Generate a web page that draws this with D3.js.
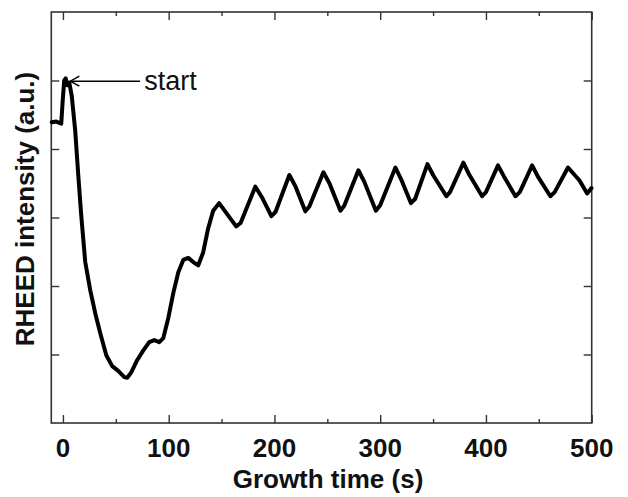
<!DOCTYPE html>
<html>
<head>
<meta charset="utf-8">
<script src="https://cdn.jsdelivr.net/npm/d3@7"></script>
<style>
  html, body { margin: 0; padding: 0; background: #fff; overflow: hidden; }
  svg { display: block; }
</style>
</head>
<body>
<script>
// RHEED intensity trace (time in s, intensity in arbitrary units)
const timeS = [
  -10.6, -6.3, -1.6, -0.2, 1.2, 2.6, 4.1, 6.0, 8.3, 11.6, 14.5, 17.3, 21.1, 25.8, 30.6, 35.3,
  41.0, 46.6, 52.3, 58.0, 60.8, 64.6, 70.3, 76.0, 81.6, 86.4, 91.1, 94.9, 99.6, 104.4, 109.1,
  113.8, 118.5, 123.2, 127.9, 132.6, 137.3, 142.1, 147.7, 155.3, 163.8, 168.0, 181.9, 188.0, 197.1, 201.0, 214.1,
  220.0, 229.2, 233.0, 246.3, 252.0, 262.4, 266.0, 279.4, 285.0, 295.9, 300.0, 314.4, 320.0, 329.0, 333.0,
  344.7, 350.0, 362.6, 366.0, 378.7, 384.0, 396.4, 400.0, 411.4, 417.0, 427.9, 432.0,
  443.7, 449.0, 460.9, 465.0, 477.6, 488.5, 495.7, 499.8
];
const intensity = [
  4.39, 4.40, 4.37, 4.71, 5.00, 5.03, 4.93, 4.97, 4.78, 4.27, 3.62, 3.03, 2.35, 1.94, 1.60, 1.31,
  0.99, 0.83, 0.76, 0.67, 0.66, 0.74, 0.92, 1.06, 1.18, 1.21, 1.18, 1.24, 1.53, 1.90, 2.20,
  2.38, 2.41, 2.35, 2.30, 2.49, 2.84, 3.10, 3.21, 3.05, 2.87, 2.92, 3.45, 3.30, 3.02, 3.08, 3.62,
  3.45, 3.09, 3.16, 3.66, 3.50, 3.10, 3.17, 3.69, 3.52, 3.10, 3.18, 3.73, 3.55, 3.21, 3.27,
  3.78, 3.62, 3.31, 3.37, 3.80, 3.63, 3.31, 3.37, 3.76, 3.60, 3.31, 3.37,
  3.76, 3.60, 3.31, 3.37, 3.73, 3.54, 3.35, 3.43
];

const xMajorTicks = [0, 100, 200, 300, 400, 500];
const xMinorTicks = [50, 150, 250, 350, 450];
const yTicks = [1, 2, 3, 4, 5];

// "start" arrow: tip, tail (data units)
const arrowTip = [7, 4.99];
const arrowTail = [73, 4.99];

const font = '"Liberation Sans", Arial, sans-serif';
const width = 628, height = 497;
const plot = { left: 51.3, right: 591.7, top: 12, bottom: 423 };

// scales map straight to page pixels
const xScale = d3.scaleLinear().domain([-11, 500]).range([plot.left, plot.right]);
const yScale = d3.scaleLinear().domain([0, 6]).range([plot.bottom, plot.top]);

const svg = d3.select('body').append('svg')
  .attr('width', width)
  .attr('height', height)
  .attr('viewBox', `0 0 ${width} ${height}`);

// tick marks only (ticks point inward); labels drawn separately
function ticks(axis, size, vals) {
  return axis.tickValues(vals).tickSize(-size).tickFormat('');
}
function styleAxis(sel) {
  sel.select('.domain').remove();
  sel.selectAll('.tick text').remove();
  sel.selectAll('.tick line').attr('stroke', '#333').attr('stroke-width', 1.4);
}

svg.append('g').attr('transform', `translate(0,${plot.bottom})`)
  .call(ticks(d3.axisBottom(xScale), 8, xMajorTicks)).call(styleAxis);
svg.append('g').attr('transform', `translate(0,${plot.bottom})`)
  .call(ticks(d3.axisBottom(xScale), 4, xMinorTicks)).call(styleAxis);
svg.append('g').attr('transform', `translate(0,${plot.top})`)
  .call(ticks(d3.axisTop(xScale), 8, xMajorTicks)).call(styleAxis);
svg.append('g').attr('transform', `translate(0,${plot.top})`)
  .call(ticks(d3.axisTop(xScale), 4, xMinorTicks)).call(styleAxis);
svg.append('g').attr('transform', `translate(${plot.left},0)`)
  .call(ticks(d3.axisLeft(yScale), 8, yTicks)).call(styleAxis);
svg.append('g').attr('transform', `translate(${plot.right},0)`)
  .call(ticks(d3.axisRight(yScale), 8, yTicks)).call(styleAxis);

// x tick labels
svg.selectAll('text.xlabel')
  .data(xMajorTicks)
  .join('text')
  .attr('class', 'xlabel')
  .attr('x', d => xScale(d))
  .attr('y', plot.bottom + 34)
  .attr('text-anchor', 'middle')
  .attr('font-family', font)
  .attr('font-weight', 'bold')
  .attr('font-size', 26)
  .attr('fill', '#111')
  .text(d => d);

// frame
svg.append('rect')
  .attr('x', plot.left)
  .attr('y', plot.top)
  .attr('width', plot.right - plot.left)
  .attr('height', plot.bottom - plot.top)
  .attr('fill', 'none')
  .attr('stroke', '#333')
  .attr('stroke-width', 1.6);

// trace
const line = d3.line()
  .x((d, i) => xScale(timeS[i]))
  .y(d => yScale(d));

svg.append('path')
  .datum(intensity)
  .attr('d', line)
  .attr('fill', 'none')
  .attr('stroke', '#000')
  .attr('stroke-width', 4)
  .attr('stroke-linejoin', 'round')
  .attr('stroke-linecap', 'round');

// annotation arrow
const tipX = xScale(arrowTip[0]), tipY = yScale(arrowTip[1]);
const tailX = xScale(arrowTail[0]), tailY = yScale(arrowTail[1]);
svg.append('line')
  .attr('x1', tipX).attr('y1', tipY)
  .attr('x2', tailX).attr('y2', tailY)
  .attr('stroke', '#000').attr('stroke-width', 1.5);
svg.append('path')
  .attr('d', `M${tipX + 9},${tipY - 5} L${tipX},${tipY} L${tipX + 9},${tipY + 5}`)
  .attr('fill', 'none').attr('stroke', '#000').attr('stroke-width', 1.5);
svg.append('text')
  .attr('x', tailX + 4)
  .attr('y', tailY + 9)
  .attr('font-family', font)
  .attr('font-size', 27)
  .attr('fill', '#111')
  .text('start');

// axis titles
svg.append('text')
  .attr('x', 328)
  .attr('y', 488)
  .attr('text-anchor', 'middle')
  .attr('font-family', font)
  .attr('font-weight', 'bold')
  .attr('font-size', 26)
  .attr('fill', '#111')
  .text('Growth time (s)');

svg.append('text')
  .attr('transform', 'translate(34,209) rotate(-90)')
  .attr('text-anchor', 'middle')
  .attr('font-family', font)
  .attr('font-weight', 'bold')
  .attr('font-size', 26)
  .attr('fill', '#111')
  .text('RHEED intensity (a.u.)');
</script>
</body>
</html>
